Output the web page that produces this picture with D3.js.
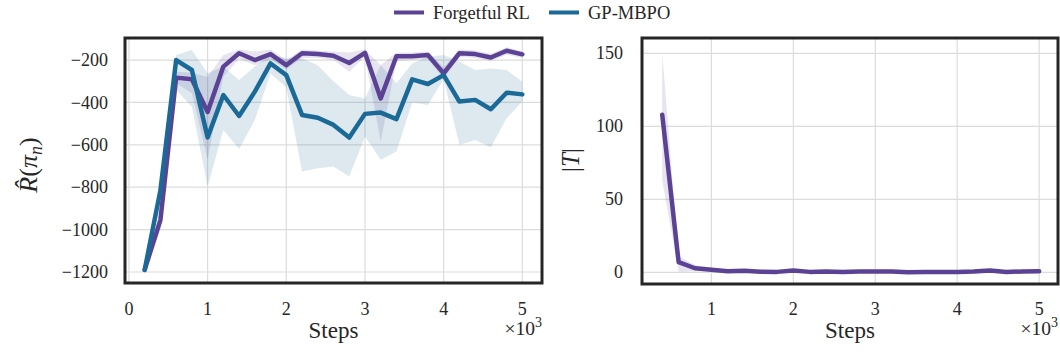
<!DOCTYPE html>
<html><head><meta charset="utf-8">
<script src="https://cdn.jsdelivr.net/npm/d3@7"></script>
<style>
body{margin:0;background:#fff;}
</style></head>
<body>
<svg id="c" width="1060" height="358"></svg>
<script>
// ---- data ----
const seriesNames = ["Forgetful RL", "GP-MBPO"];
const steps = [200,400,600,800,1000,1200,1400,1600,1800,2000,2200,2400,2600,2800,3000,3200,3400,3600,3800,4000,4200,4400,4600,4800,5000];
const frlMean = [-1190,-955,-283,-291,-445,-231,-168,-200,-172,-224,-168,-172,-180,-214,-166,-381,-182,-182,-176,-263,-168,-172,-188,-156,-173];
const frlLow  = [-1200,-1000,-310,-357,-670,-278,-195,-225,-195,-245,-190,-190,-200,-255,-185,-585,-205,-200,-195,-290,-185,-190,-205,-175,-190];
const frlHigh = [-1180,-910,-255,-260,-280,-176,-150,-160,-150,-200,-150,-155,-160,-165,-150,-224,-165,-165,-160,-235,-150,-155,-170,-140,-158];
const gpMean  = [-1190,-815,-200,-247,-565,-365,-464,-349,-216,-271,-459,-472,-506,-566,-454,-448,-479,-291,-313,-271,-396,-388,-432,-354,-362];
const gpLow   = [-1200,-835,-341,-420,-797,-530,-620,-483,-263,-330,-726,-710,-702,-750,-561,-671,-632,-400,-412,-290,-600,-577,-611,-475,-396];
const gpHigh  = [-1180,-795,-176,-153,-262,-230,-294,-231,-176,-192,-192,-224,-300,-365,-381,-224,-310,-216,-184,-176,-208,-247,-240,-247,-302];
const rSteps  = [400,600,800,1000,1200,1400,1600,1800,2000,2200,2400,2600,2800,3000,3200,3400,3600,3800,4000,4200,4400,4600,4800,5000];
const tMean   = [108,7.0,2.8,1.8,0.8,1.0,0.4,0.3,1.2,0.3,0.5,0.3,0.6,0.6,0.5,0.0,0.2,0.2,0.2,0.5,1.2,0.2,0.6,0.7];
const tLow    = [63,0.4,0.8,0.6,0.1,0.2,0.0,0.0,0.4,0.0,0.0,0.0,0.1,0.1,0.0,0.0,0.0,0.0,0.0,0.0,0.4,0.0,0.1,0.2];
const tHigh   = [150,11,5,3.2,1.6,1.8,0.9,0.8,2.0,0.7,1.0,0.7,1.1,1.1,1.0,0.4,0.5,0.5,0.5,1.0,2.0,0.5,1.1,1.2];
const leftXTicks = [0,1000,2000,3000,4000,5000];
const leftYTicks = [-1200,-1000,-800,-600,-400,-200];
const rightXTicks = [1000,2000,3000,4000,5000];
const rightYTicks = [0,50,100,150];

const purple = "#5c4294", blue = "#1b6996";
const FONT = "'Liberation Serif'";
const svg = d3.select("#c");
const fmtMinus = d => (d < 0 ? "\u2212" + Math.abs(d) : "" + d);

function panel(o) {
  const x = d3.scaleLinear().domain(o.xd).range([o.x0, o.x1]);
  const y = d3.scaleLinear().domain(o.yd).range([o.y1, o.y0]);
  const g = svg.append("g");
  g.selectAll(".gx").data(o.xt).enter().append("line")
    .attr("x1", d => x(d)).attr("x2", d => x(d)).attr("y1", o.y0).attr("y2", o.y1)
    .attr("stroke", "#dcdcdc").attr("stroke-width", 1.2);
  g.selectAll(".gy").data(o.yt).enter().append("line")
    .attr("y1", d => y(d)).attr("y2", d => y(d)).attr("x1", o.x0).attr("x2", o.x1)
    .attr("stroke", "#dcdcdc").attr("stroke-width", 1.2);
  o.series.forEach(s => {
    const area = d3.area().x((d, i) => x(s.xs[i])).y0((d, i) => y(s.lo[i])).y1((d, i) => y(s.hi[i]));
    g.append("path").attr("d", area(s.xs)).attr("fill", s.color).attr("fill-opacity", 0.15);
  });
  o.series.forEach(s => {
    const line = d3.line().x((d, i) => x(s.xs[i])).y((d, i) => y(s.m[i]));
    g.append("path").attr("d", line(s.xs)).attr("fill", "none").attr("stroke", s.color)
      .attr("stroke-width", 4.5).attr("stroke-linejoin", "round").attr("stroke-linecap", "round");
  });
  g.append("rect").attr("x", o.x0).attr("y", o.y0).attr("width", o.x1 - o.x0).attr("height", o.y1 - o.y0)
    .attr("fill", "none").attr("stroke", "#262626").attr("stroke-width", 3);
  g.selectAll(".tx").data(o.xt).enter().append("text")
    .attr("x", d => x(d)).attr("y", 315).attr("text-anchor", "middle").attr("font-family", FONT)
    .attr("font-size", 18).attr("fill", "#262626").text(d => d / 1000);
  g.selectAll(".ty").data(o.yt).enter().append("text")
    .attr("x", o.ylx).attr("y", d => y(d)).attr("dy", "0.34em").attr("text-anchor", "end").attr("font-family", FONT)
    .attr("font-size", 18).attr("fill", "#262626").text(fmtMinus);
  g.append("text").attr("x", (o.x0 + o.x1) / 2).attr("y", 338).attr("text-anchor", "middle").attr("font-family", FONT)
    .attr("font-size", 23).attr("fill", "#262626").text("Steps");
  const m = g.append("text").attr("x", o.x1).attr("y", 335).attr("text-anchor", "end").attr("font-family", FONT)
    .attr("font-size", 19.5).attr("fill", "#262626");
  m.append("tspan").text("\u00d710");
  m.append("tspan").attr("dy", -8).attr("font-size", 14).text("3");
  return g;
}

panel({
  x0: 125, x1: 542, y0: 38, y1: 283, xd: [-50, 5250], yd: [-1252, -96],
  xt: leftXTicks, yt: leftYTicks, ylx: 108,
  series: [
    {xs: steps, m: frlMean, lo: frlLow, hi: frlHigh, color: purple},
    {xs: steps, m: gpMean, lo: gpLow, hi: gpHigh, color: blue}
  ]
});
panel({
  x0: 642, x1: 1058, y0: 38, y1: 284, xd: [153, 5230], yd: [-8, 160.5],
  xt: rightXTicks, yt: rightYTicks, ylx: 623,
  series: [
    {xs: rSteps, m: tMean, lo: tLow, hi: tHigh, color: purple}
  ]
});

const yl = svg.append("text").attr("transform", "translate(37,165) rotate(-90)").attr("font-family", FONT)
  .attr("text-anchor", "middle").attr("font-size", 26).attr("fill", "#262626");
yl.append("tspan").attr("font-style", "italic").text("R\u0302");
yl.append("tspan").text("(");
yl.append("tspan").attr("font-style", "italic").text("\u03c0");
yl.append("tspan").attr("font-style", "italic").attr("font-size", 18).attr("dy", 5).text("n");
yl.append("tspan").attr("dy", -5).text(")");

const yr = svg.append("text").attr("transform", "translate(579,160) rotate(-90)").attr("font-family", FONT)
  .attr("text-anchor", "middle").attr("font-size", 25).attr("fill", "#262626");
yr.append("tspan").text("|");
yr.append("tspan").attr("font-style", "italic").text("T");
yr.append("tspan").text("|");

const leg = svg.append("g");
const legItems = [
  {name: seriesNames[0], color: purple, x: 394},
  {name: seriesNames[1], color: blue, x: 549}
];
legItems.forEach(it => {
  leg.append("line").attr("x1", it.x).attr("x2", it.x + 30).attr("y1", 12.5).attr("y2", 12.5)
    .attr("stroke", it.color).attr("stroke-width", 4);
  leg.append("text").attr("x", it.x + 39).attr("y", 19).attr("font-family", FONT)
    .attr("font-size", 18.5).attr("fill", "#262626").text(it.name);
});
</script>
</body></html>
